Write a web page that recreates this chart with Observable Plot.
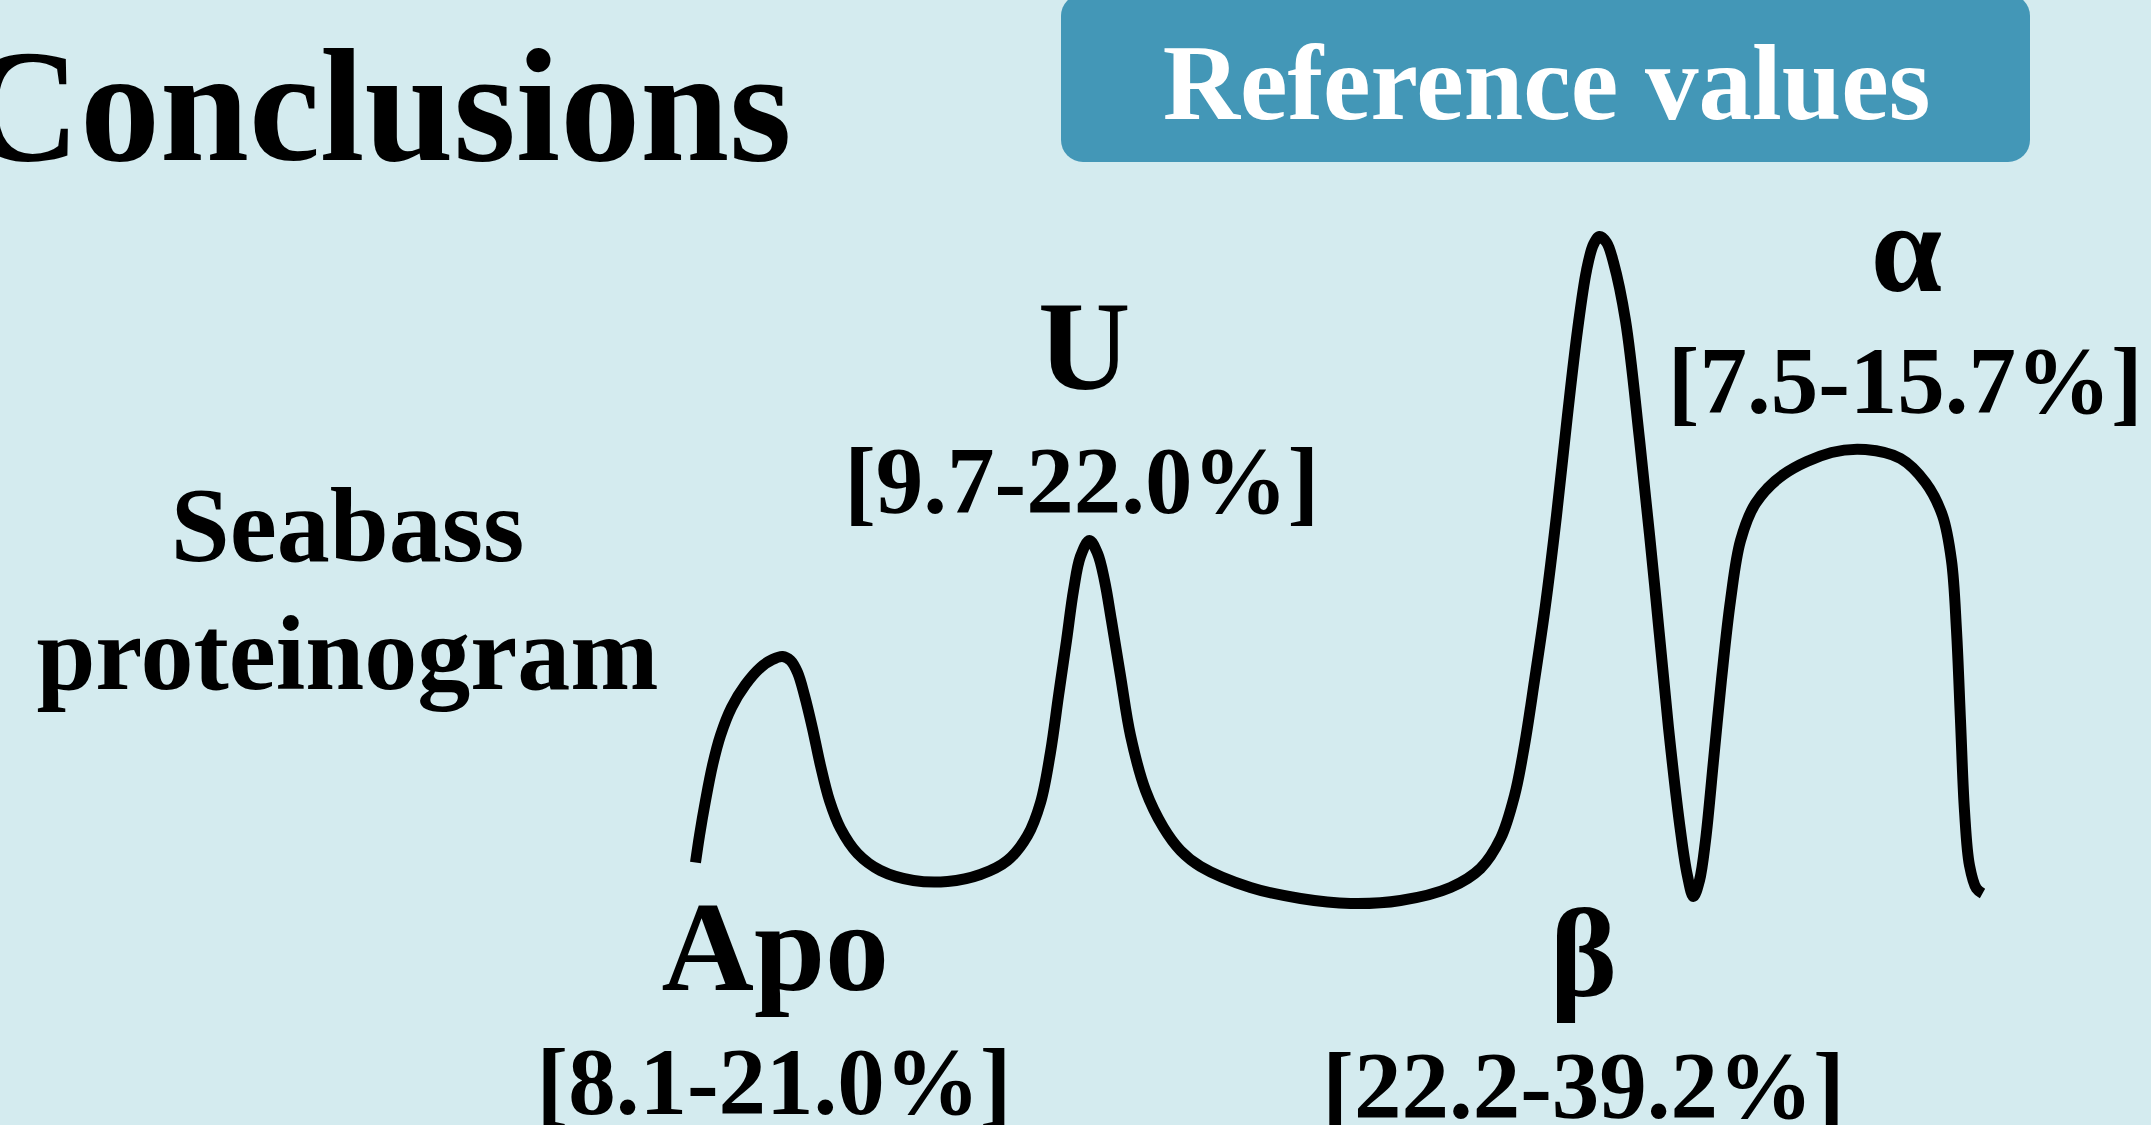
<!DOCTYPE html>
<html>
<head>
<meta charset="utf-8">
<script src="https://cdn.jsdelivr.net/npm/d3@7"></script>
<script src="https://cdn.jsdelivr.net/npm/@observablehq/plot@0.6"></script>
<style>
  html, body { margin: 0; padding: 0; background: #d4ebef; }
  #stage { position: relative; width: 2151px; height: 1125px; overflow: hidden; background: #d4ebef; }
  #box { position: absolute; left: 1061px; top: -6px; width: 969px; height: 168px; border-radius: 22px; background: #4397b7; }
  #chart { position: absolute; left: 0; top: 0; }
</style>
</head>
<body>
<div id="stage"><div id="box"></div><div id="chart"></div></div>
<script>
// ---- data (relative mobility 0-100, relative intensity 0-100) ----
const mobility = [0, 0.31, 0.78, 1.32, 1.94, 2.80, 3.89, 5.05, 5.98, 6.76,
  7.38, 7.93, 8.47, 9.09, 9.71, 10.41, 11.27, 12.59, 14.37, 16.94,
  19.58, 22.14, 24.24, 25.80, 26.81, 27.58, 28.21, 28.83, 29.37, 29.91,
  30.61, 31.24, 31.78, 32.32, 33.02, 33.80, 34.97, 36.36, 37.68, 39.24,
  43.12, 47.01, 50.89, 54.78, 58.66, 60.99, 62.55, 63.64, 64.41, 65.19,
  66.04, 66.90, 67.75, 68.53, 69.23, 69.77, 70.24, 70.79, 71.33, 72.26,
  73.35, 74.51, 75.60, 76.53, 77.07, 77.54, 78.01, 78.48, 79.10, 79.72,
  80.42, 81.20, 82.36, 84.54, 88.27, 90.91, 93.63, 95.57, 96.89, 97.59,
  97.98, 98.29, 98.60, 98.99, 99.53, 100];
const intensity = [6.15, 10.19, 15.44, 20.69, 25.19, 29.39, 32.83, 35.38, 36.58, 37.03,
  36.43, 34.63, 31.18, 26.24, 20.69, 15.44, 11.24, 7.50, 4.95, 3.45,
  3.30, 4.35, 6.45, 10.19, 15.14, 22.64, 31.18, 39.43, 46.93, 52.02,
  54.42, 52.47, 48.43, 42.43, 34.18, 25.19, 16.94, 11.39, 7.95, 5.55,
  2.40, 0.75, 0, 0.45, 2.40, 5.25, 9.75, 16.19, 23.69, 33.43,
  44.68, 58.17, 73.16, 85.91, 94.90, 98.80, 100, 99.10, 96.10, 87.41,
  69.57, 47.98, 26.39, 10.94, 4.20, 1.05, 3.45, 9.45, 21.44, 33.58,
  45.43, 54.42, 59.97, 64.32, 67.62, 68.07, 66.72, 63.12, 58.17, 51.42,
  40.93, 27.44, 13.94, 5.70, 2.25, 1.50];

const fractionNames = ["Apo", "U", "β", "α"];
const fractionRanges = ["[8.1-21.0%]", "[9.7-22.0%]", "[22.2-39.2%]", "[7.5-15.7%]"];
const titleText = "Conclusions";
const boxText = "Reference values";
const sideText = ["Seabass", "proteinogram"];

// ---- layout (label anchors in the chart's own units) ----
const nameX = [6.2, 30.2, 69.0, 94.1];
const nameY = [-13.0, 77.2, -13.9, 91.9];
const rangeX = [6.1, 30.0, 69.0, 94.0];
const rangeY = [-31.6, 58.5, -32.1, 73.5];

const curve = mobility.map((x, i) => ({x, y: intensity[i]}));
const names = fractionNames.map((t, i) => ({t, x: nameX[i], y: nameY[i]}));
const ranges = fractionRanges.map((t, i) => ({t, x: rangeX[i], y: rangeY[i]}));

const FONT = "'Liberation Serif', 'Times New Roman', serif";

const chart = Plot.plot({
  width: 2151,
  height: 1125,
  margin: 0,
  x: {domain: [0, 100], range: [695, 1982], axis: null},
  y: {domain: [0, 100], range: [903, 236], axis: null},
  style: {background: "transparent", maxWidth: "none", overflow: "visible", fontFamily: FONT},
  marks: [
    Plot.line(curve, {x: "x", y: "y", curve: "catmull-rom", stroke: "#000", strokeWidth: 11, strokeLinejoin: "round", strokeLinecap: "butt"}),
    Plot.text(names, {x: "x", y: "y", text: "t", lineAnchor: "bottom", textAnchor: "middle", fontSize: 128, fontWeight: "bold", fontFamily: FONT, fill: "#000"}),
    Plot.text(ranges, {x: "x", y: "y", text: "t", lineAnchor: "bottom", textAnchor: "middle", fontSize: 95, fontWeight: "bold", fontFamily: FONT, fill: "#000"}),
    Plot.text([titleText], {text: d => d, frameAnchor: "top-left", dx: -36, dy: 159, lineAnchor: "bottom", textAnchor: "start", fontSize: 160, fontWeight: "bold", fontFamily: FONT, fill: "#000"}),
    Plot.text([boxText], {text: d => d, frameAnchor: "top-left", dx: 1546, dy: 118, lineAnchor: "bottom", textAnchor: "middle", fontSize: 107, fontWeight: "bold", fontFamily: FONT, fill: "#fff"}),
    Plot.text([sideText.join("\n")], {text: d => d, frameAnchor: "top-left", dx: 347, dy: 688, lineAnchor: "bottom", lineHeight: 128 / 106, textAnchor: "middle", fontSize: 106, fontWeight: "bold", fontFamily: FONT, fill: "#000"})
  ]
});
document.getElementById("chart").appendChild(chart);
</script>
</body>
</html>
